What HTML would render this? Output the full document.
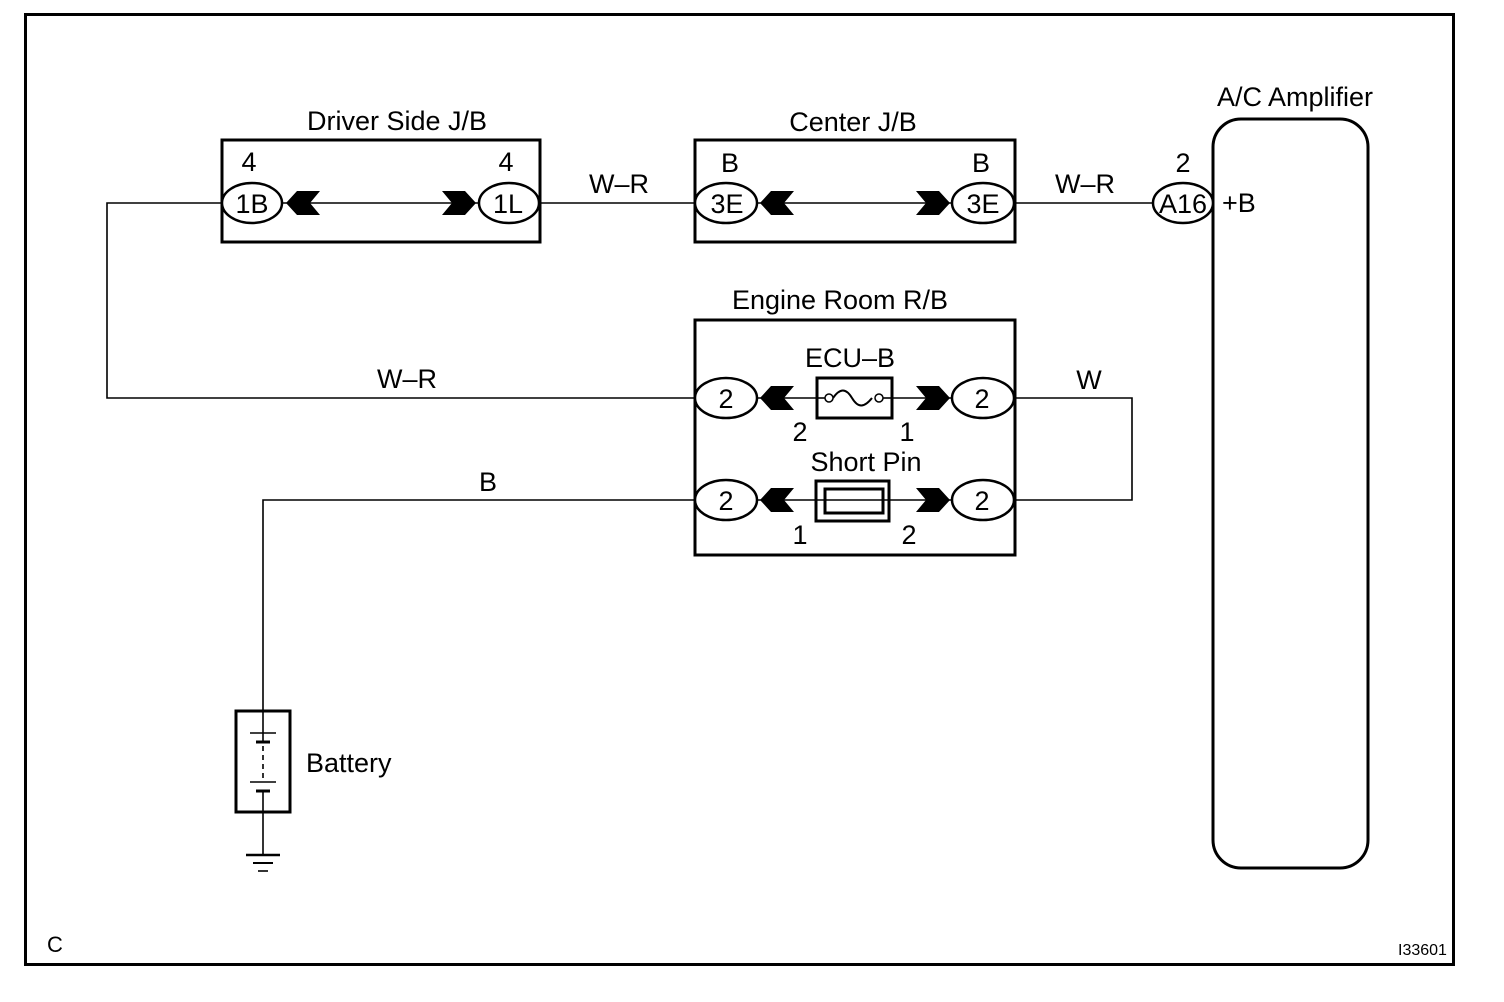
<!DOCTYPE html>
<html><head><meta charset="utf-8"><style>
html,body{margin:0;padding:0;background:#fff;}
svg{display:block;}
text{font-family:"Liberation Sans",Arial,sans-serif;fill:#000;}
</style></head><body>
<svg width="1504" height="1002" viewBox="0 0 1504 1002" xmlns="http://www.w3.org/2000/svg">
<rect x="25.5" y="14.5" width="1428" height="950" fill="none" stroke="#000" stroke-width="3"/>
<g stroke="#000" stroke-width="1.6" fill="none">
<polyline points="222,203 107,203 107,398 695,398"/>
<line x1="540" y1="203" x2="695" y2="203"/>
<line x1="1015" y1="203" x2="1153" y2="203"/>
<polyline points="1015,398 1132,398 1132,500 1015,500"/>
<polyline points="695,500 263,500 263,711"/>
<line x1="263" y1="812" x2="263" y2="855"/>
<line x1="283" y1="203" x2="478" y2="203"/>
<line x1="757" y1="203" x2="951" y2="203"/>
<line x1="757" y1="398" x2="951" y2="398"/>
<line x1="757" y1="500" x2="951" y2="500"/>
</g>
<g stroke="#000" stroke-width="3" fill="none">
<rect x="222" y="140" width="318" height="102"/>
<rect x="695" y="140" width="320" height="102"/>
<rect x="695" y="320" width="320" height="235"/>
<rect x="1213" y="119" width="155" height="749" rx="28"/>
<rect x="236" y="711" width="54" height="101"/>
</g>
<g stroke="#000" stroke-width="2.5" fill="#fff">
<ellipse cx="252" cy="203" rx="30" ry="20"/>
<ellipse cx="509" cy="203" rx="30" ry="20"/>
<ellipse cx="726" cy="203" rx="31" ry="20"/>
<ellipse cx="983" cy="203" rx="31" ry="20"/>
<ellipse cx="1183" cy="203" rx="30" ry="20"/>
<ellipse cx="726" cy="398" rx="31" ry="20"/>
<ellipse cx="983" cy="398" rx="31" ry="20"/>
<ellipse cx="726" cy="500" rx="31" ry="20"/>
<ellipse cx="983" cy="500" rx="31" ry="20"/>
</g>
<g fill="#000">
<polygon points="286,203 297,191 320,191 310,203 320,215 297,215"/>
<polygon points="476,203 465,191 442,191 452,203 442,215 465,215"/>
<polygon points="760,203 771,191 794,191 784,203 794,215 771,215"/>
<polygon points="950,203 939,191 916,191 926,203 916,215 939,215"/>
<polygon points="760,398 771,386 794,386 784,398 794,410 771,410"/>
<polygon points="950,398 939,386 916,386 926,398 916,410 939,410"/>
<polygon points="760,500 771,488 794,488 784,500 794,512 771,512"/>
<polygon points="950,500 939,488 916,488 926,500 916,512 939,512"/>
</g>
<rect x="817" y="378" width="75" height="40" fill="#fff" stroke="#000" stroke-width="3"/>
<path d="M833,398 C840,388 846,388 852,398 C858,408 864,408 872,398" fill="none" stroke="#000" stroke-width="2"/>
<circle cx="829" cy="398" r="4" fill="#fff" stroke="#000" stroke-width="1.5"/>
<circle cx="879" cy="398" r="4" fill="#fff" stroke="#000" stroke-width="1.5"/>
<line x1="817" y1="398" x2="825" y2="398" stroke="#000" stroke-width="1.6"/>
<line x1="883" y1="398" x2="892" y2="398" stroke="#000" stroke-width="1.6"/>
<rect x="816" y="481" width="73" height="40" fill="#fff" stroke="#000" stroke-width="3"/>
<rect x="825" y="489" width="58" height="24" fill="none" stroke="#000" stroke-width="3"/>
<line x1="816" y1="500" x2="889" y2="500" stroke="#000" stroke-width="1.6"/>
<g stroke="#000">
<line x1="263" y1="711" x2="263" y2="743" stroke-width="1.6"/>
<line x1="250" y1="733" x2="276" y2="733" stroke-width="1.6"/>
<line x1="256" y1="742" x2="270" y2="742" stroke-width="3"/>
<line x1="263" y1="746" x2="263" y2="778" stroke-width="1.6" stroke-dasharray="5,4"/>
<line x1="250" y1="782" x2="276" y2="782" stroke-width="1.6"/>
<line x1="256" y1="791" x2="270" y2="791" stroke-width="3"/>
<line x1="263" y1="791" x2="263" y2="812" stroke-width="1.6"/>
<line x1="246" y1="855" x2="280" y2="855" stroke-width="2.5"/>
<line x1="253" y1="863" x2="273" y2="863" stroke-width="2"/>
<line x1="258" y1="871" x2="268" y2="871" stroke-width="1.6"/>
</g>
<g font-size="27" text-anchor="middle">
<text x="397" y="130">Driver Side J/B</text>
<text x="853" y="131">Center J/B</text>
<text x="1295" y="106">A/C Amplifier</text>
<text x="840" y="309">Engine Room R/B</text>
<text x="850" y="367">ECU–B</text>
<text x="866" y="471">Short Pin</text>
<text x="249" y="171">4</text>
<text x="506" y="171">4</text>
<text x="730" y="172">B</text>
<text x="981" y="172">B</text>
<text x="1183" y="172">2</text>
<text x="252" y="213">1B</text>
<text x="508" y="213">1L</text>
<text x="727" y="213">3E</text>
<text x="983" y="213">3E</text>
<text x="1183" y="213">A16</text>
<text x="726" y="408">2</text>
<text x="982" y="408">2</text>
<text x="726" y="510">2</text>
<text x="982" y="510">2</text>
<text x="800" y="441">2</text>
<text x="907" y="441">1</text>
<text x="800" y="544">1</text>
<text x="909" y="544">2</text>
<text x="619" y="193">W–R</text>
<text x="1085" y="193">W–R</text>
<text x="407" y="388">W–R</text>
<text x="1089" y="389">W</text>
<text x="488" y="491">B</text>
</g>
<text x="1222" y="212" font-size="27">+B</text>
<text x="306" y="772" font-size="27">Battery</text>
<text x="47" y="952" font-size="22">C</text>
<text x="1398" y="955" font-size="16">I33601</text>
</svg>
</body></html>
